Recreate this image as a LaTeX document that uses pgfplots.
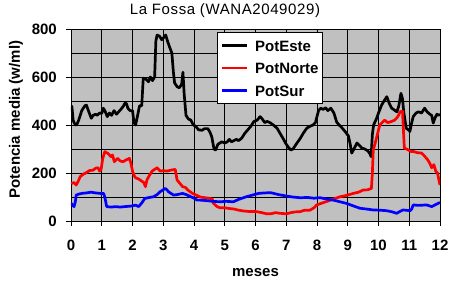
\documentclass[border=0pt]{standalone}
\usepackage{fontspec}
\setmainfont{Liberation Sans}
\usepackage{pgfplots}
\pgfplotsset{compat=1.18}
\definecolor{plotgrey}{RGB}{192,192,192}
\definecolor{sred}{RGB}{255,0,0}
\definecolor{sblue}{RGB}{0,0,255}
\newcommand{\fnt}{\fontsize{15bp}{18bp}\selectfont}
\begin{document}
\begin{tikzpicture}
\begin{axis}[
  scale only axis, width=369bp, height=192bp,
  xmin=0, xmax=12, ymin=0, ymax=800,
  xtick={0,1,...,12}, ytick={0,200,...,800}, minor ytick={100,300,500,700},
  grid=both,
  grid style={black, line width=0.9bp},
  minor grid style={black, line width=0.9bp},
  major tick length=5bp, minor tick length=0pt,
  tick align=outside, tick pos=left,
  tick style={black, line width=0.9bp},
  axis background/.style={fill=plotgrey},
  axis line style={black, line width=0.9bp},
  /pgf/number format/assume math mode=true,
  ticklabel style={font=\fnt\bfseries, inner sep=0pt},
  yticklabel style={anchor=east, xshift=-9bp},
  xticklabel style={anchor=north, yshift=-14bp},
  title={La Fossa (WANA2049029)},
  title style={at={(axis description cs:0.4173,1)}, anchor=base, yshift=8.5bp, inner sep=0pt,
    font=\fontsize{15bp}{18bp}\selectfont\addfontfeatures{LetterSpace=4}},
  xlabel={meses},
  xlabel style={at={(axis description cs:0.5,-0.268)}, anchor=center, inner sep=0pt, font=\fnt\bfseries},
  ylabel={Potencia media (w/ml)},
  ylabel style={at={(axis description cs:-0.149,0.5286)}, anchor=center, inner sep=0pt, font=\fnt\bfseries},
  legend style={at={(axis description cs:0.3957,0.984)}, anchor=north west,
    draw=black, line width=0.9bp, fill=white, font=\fnt\bfseries,
    inner xsep=3.5bp, inner ysep=7.5bp, row sep=11.5bp,
    nodes={inner sep=0pt, text height=11bp, text depth=0bp},
    /tikz/every odd column/.append style={column sep=6.5bp}},
  legend cell align=left,
  legend image code/.code={\draw[#1] (0bp,0bp) -- (25bp,0bp);},
  every axis plot/.append style={line width=2.7bp, line join=round},
]
\addplot[black] coordinates {
(0.00,480) (0.03,476) (0.07,420) (0.10,410) (0.15,400) (0.20,405) (0.25,420) (0.35,460) (0.45,480) (0.50,483)
(0.58,455) (0.66,428) (0.72,440) (0.80,445) (0.85,440) (0.93,450) (1.00,448) (1.05,470) (1.10,460) (1.18,435)
(1.25,450) (1.32,440) (1.40,460) (1.48,445) (1.55,455) (1.62,465) (1.69,476) (1.75,490) (1.80,490) (1.85,470)
(1.92,460) (2.00,460) (2.05,410) (2.10,400) (2.15,430) (2.23,480) (2.30,480) (2.35,595) (2.45,590) (2.52,580)
(2.58,600) (2.65,585) (2.72,600) (2.76,750) (2.80,775) (2.88,770) (2.95,755) (3.02,765) (3.08,775) (3.15,745)
(3.22,720) (3.28,700) (3.33,620) (3.37,575) (3.45,560) (3.52,555) (3.60,570) (3.64,620) (3.68,530) (3.74,440)
(3.82,425) (3.90,420) (3.98,400) (4.05,395) (4.15,380) (4.26,378) (4.35,385) (4.45,385) (4.52,370) (4.58,350)
(4.65,300) (4.70,296) (4.78,320) (4.90,330) (5.00,325) (5.08,330) (5.15,340) (5.22,330) (5.30,335) (5.38,340)
(5.45,335) (5.55,345) (5.65,365) (5.75,380) (5.85,395) (5.95,415) (6.05,420) (6.15,435) (6.22,425) (6.30,410)
(6.38,415) (6.47,410) (6.58,400) (6.70,387) (6.80,365) (6.90,343) (7.00,320) (7.08,305) (7.15,296) (7.22,300)
(7.35,325) (7.45,343) (7.55,365) (7.67,387) (7.78,395) (7.87,400) (7.95,410) (8.05,460) (8.12,470) (8.20,465)
(8.28,472) (8.35,460) (8.45,470) (8.55,450) (8.64,412) (8.72,400) (8.80,390) (8.90,375) (9.02,355) (9.08,320)
(9.13,283) (9.20,300) (9.30,325) (9.38,315) (9.45,305) (9.55,300) (9.62,295) (9.66,291) (9.72,280) (9.76,268)
(9.80,360) (9.84,400) (9.93,425) (10.00,450) (10.10,483) (10.18,500) (10.27,518) (10.35,490) (10.43,470) (10.52,462)
(10.60,455) (10.66,480) (10.73,532) (10.78,510) (10.82,455) (10.90,387) (10.97,380) (11.02,373) (11.08,410) (11.13,435)
(11.22,450) (11.30,455) (11.40,450) (11.50,470) (11.58,455) (11.67,445) (11.73,440) (11.78,408) (11.84,430) (11.90,445)
(11.95,440) (12.00,445)
};
\addlegendentry{PotEste}
\addplot[sred] coordinates {
(0.00,160) (0.03,157) (0.10,160) (0.17,150) (0.25,170) (0.30,185) (0.40,195) (0.48,200) (0.60,210) (0.72,212)
(0.80,220) (0.88,222) (0.93,208) (0.98,215) (1.03,260) (1.10,289) (1.15,285) (1.20,282) (1.30,268) (1.35,275)
(1.41,247) (1.47,255) (1.52,261) (1.60,250) (1.69,247) (1.80,255) (1.90,261) (1.95,240) (2.00,208) (2.05,190)
(2.10,180) (2.20,175) (2.30,166) (2.37,160) (2.42,143) (2.47,171) (2.55,190) (2.64,208) (2.72,215) (2.80,222)
(2.90,208) (3.00,210) (3.12,208) (3.25,212) (3.39,215) (3.45,171) (3.52,160) (3.63,143) (3.72,140) (3.80,129)
(3.95,115) (4.07,108) (4.20,100) (4.35,97) (4.50,95) (4.60,90) (4.63,74) (4.75,60) (4.85,55) (5.00,55)
(5.15,52) (5.30,50) (5.45,45) (5.60,42) (5.75,40) (5.90,40) (6.04,39) (6.20,35) (6.36,30) (6.50,30)
(6.65,35) (6.80,32) (7.01,30) (7.15,35) (7.30,38) (7.45,39) (7.60,45) (7.77,45) (7.90,55) (7.99,67)
(8.10,72) (8.31,81) (8.50,90) (8.75,101) (8.90,105) (9.05,110) (9.18,115) (9.35,120) (9.50,129) (9.65,130)
(9.77,136) (9.80,200) (9.83,296) (9.93,343) (10.04,400) (10.12,410) (10.20,420) (10.30,410) (10.43,415) (10.52,420)
(10.60,430) (10.65,440) (10.70,455) (10.78,458) (10.81,380) (10.84,304) (10.97,296) (11.05,290) (11.13,290) (11.25,285)
(11.40,283) (11.50,270) (11.60,255) (11.67,240) (11.73,222) (11.80,235) (11.86,208) (11.92,200) (11.95,180) (12.00,150)
};
\addlegendentry{PotNorte}
\addplot[sblue] coordinates {
(0.00,75) (0.05,65) (0.10,60) (0.14,80) (0.17,108) (0.25,112) (0.35,115) (0.50,117) (0.65,120) (0.80,117)
(0.95,115) (1.06,115) (1.10,100) (1.16,60) (1.30,58) (1.45,60) (1.60,58) (1.75,60) (1.95,62) (2.10,66)
(2.20,60) (2.30,75) (2.40,94) (2.55,98) (2.68,101) (2.80,110) (2.90,122) (3.00,130) (3.06,136) (3.12,130)
(3.17,122) (3.25,115) (3.34,108) (3.45,110) (3.63,115) (3.75,110) (3.90,101) (4.00,95) (4.10,87) (4.20,87)
(4.40,85) (4.60,82) (4.85,80) (5.05,82) (5.28,80) (5.45,90) (5.70,101) (5.90,108) (6.10,115) (6.30,117)
(6.50,118) (6.75,110) (7.01,104) (7.20,100) (7.45,97) (7.70,98) (7.90,95) (8.10,97) (8.30,92) (8.53,87)
(8.75,80) (8.97,73) (9.20,62) (9.40,53) (9.60,50) (9.83,46) (10.05,45) (10.26,43) (10.45,38) (10.59,32)
(10.70,40) (10.80,46) (11.03,43) (11.08,50) (11.13,67) (11.30,65) (11.57,67) (11.73,60) (11.85,68) (12.00,77)
};
\addlegendentry{PotSur}
\end{axis}
\pgfresetboundingbox
\path[use as bounding box] (-71bp,-64bp) rectangle (384bp,221bp);
\end{tikzpicture}
\end{document}
